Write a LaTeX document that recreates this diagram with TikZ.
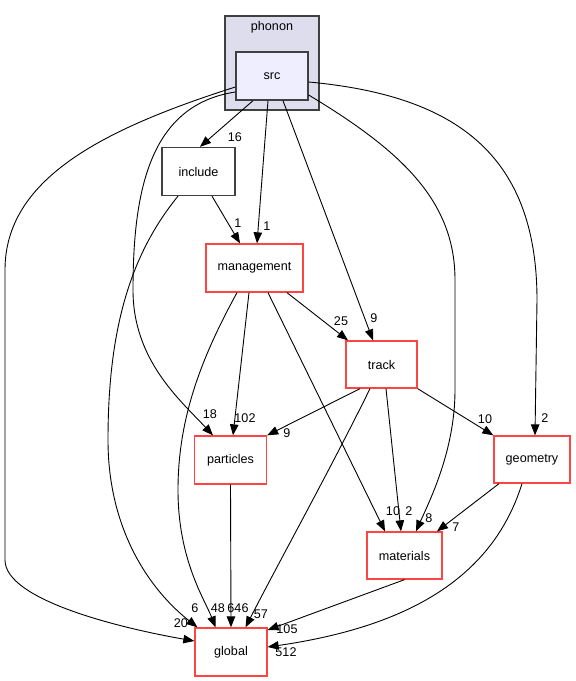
\documentclass[tikz,border=0pt]{standalone}
\usepackage{fontspec}
\setmainfont{Liberation Sans}
\usetikzlibrary{arrows.meta}
\definecolor{redb}{RGB}{255,68,68}
\definecolor{grayb}{RGB}{64,64,64}
\definecolor{clfill}{RGB}{221,221,238}
\definecolor{srcfill}{RGB}{238,238,255}
\tikzset{
  dirbox/.style={draw=redb,line width=1.3pt,fill=white,minimum width=#1,minimum height=47pt,inner sep=0pt,font=\fontsize{12.6}{14}\selectfont},
  plainbox/.style={draw=grayb,line width=1.3pt,fill=white,minimum width=#1,minimum height=48pt,inner sep=0pt,font=\fontsize{12.6}{14}\selectfont},
  dep/.style={draw=black,line width=0.9pt,-{Triangle[length=11pt,width=8.5pt]}},
  lab/.style={inner sep=0pt,font=\fontsize{12.6}{14}\selectfont}
}
\begin{document}
\begin{tikzpicture}[x=1pt,y=-1pt]
\useasboundingbox (0,0) rectangle (576,681);
% cluster
\node[draw=grayb,line width=1.3pt,fill=clfill,minimum width=94pt,minimum height=94pt,inner sep=0pt] (phonon) at (272,63) {};
\node[lab] (phononlab) at (272,27) {phonon};
\node[plainbox=72pt,fill=srcfill,minimum height=48pt] (src) at (272,76) {src};
% nodes
\node[plainbox=73pt] (include) at (198.5,171.5) {include};
\node[dirbox=97pt,minimum height=48pt] (management) at (254.5,268) {management};
\node[dirbox=71pt] (track) at (381.5,364.5) {track};
\node[dirbox=72pt,minimum height=48pt] (particles) at (230.5,460) {particles};
\node[dirbox=76pt] (geometry) at (532,459.5) {geometry};
\node[dirbox=75pt] (materials) at (404.5,555.5) {materials};
\node[dirbox=72pt,minimum height=48pt] (global) at (231,652) {global};
% edges
\draw[dep] ([yshift=-11pt]src.west) .. controls (100,130) and (5,180) .. (5,270) -- (5,560) .. controls (5,600) and (120,628) .. ([yshift=11pt]global.west);
\draw[dep] ([yshift=-16pt]src.west) .. controls (150,105) and (133,190) .. (133,290) .. controls (133,360) and (180,400) .. ([xshift=-17.5pt]particles.north);
\draw[dep] ([xshift=-19pt]src.south) -- ([xshift=1.5pt]include.north);
\draw[dep] ([xshift=-4pt]src.south) -- ([xshift=2.5pt]management.north);
\draw[dep] ([xshift=11pt]src.south) -- ([xshift=-8.5pt]track.north);
\draw[dep] ([yshift=-19pt]src.east) .. controls (400,150) and (455,200) .. (455,280) -- (455,390) .. controls (455,450) and (430,500) .. ([xshift=11.5pt]materials.north);
\draw[dep] ([yshift=-6pt]src.east) .. controls (450,95) and (537,150) .. (537,300) -- ([xshift=3pt]geometry.north);
\draw[dep] ([xshift=13.5pt]include.south) -- ([xshift=-14.5pt]management.north);
\draw[dep] ([xshift=-20.5pt]include.south) .. controls (130,255) and (108,330) .. (108,440) .. controls (108,530) and (150,590) .. ([xshift=-33.5pt]global.north);
\draw[dep] ([xshift=-5.5pt]management.south) -- ([xshift=2.5pt]particles.north);
\draw[dep] ([xshift=-17.5pt]management.south) .. controls (200,360) and (178,420) .. (178,490) .. controls (178,560) and (205,600) .. ([xshift=-15.5pt]global.north);
\draw[dep] ([xshift=32.5pt]management.south) -- ([xshift=-33.5pt]track.north);
\draw[dep] ([xshift=13.5pt]management.south) -- ([xshift=-19.5pt]materials.north);
\draw[dep] ([xshift=-21.5pt]track.south) -- (particles.north east);
\draw[dep] ([xshift=-11.5pt]track.south) .. controls (330,470) and (280,560) .. ([xshift=14.5pt]global.north);
\draw[dep] ([xshift=4.5pt]track.south) -- ([xshift=-3.5pt]materials.north);
\draw[dep] (track.south east) -- (geometry.north west);
\draw[dep] (particles.south) -- (global.north);
\draw[dep] ([xshift=-33pt]geometry.south) -- ([xshift=32.5pt]materials.north);
\draw[dep] ([xshift=-10pt]geometry.south) .. controls (495,570) and (420,625) .. ([yshift=5pt]global.east);
\draw[dep] (materials.south) -- ([yshift=22pt]global.east);
% labels
\node[lab] (l20) at (181,623) {20};
\node[lab] (l18) at (210,414) {18};
\node[lab] (l16) at (235,137) {16};
\node[lab] (l1a) at (267,226) {1};
\node[lab] (l9a) at (374,318) {9};
\node[lab] (l8) at (429,518) {8};
\node[lab] (l2a) at (545,418) {2};
\node[lab] (l1b) at (238,223) {1};
\node[lab] (l6) at (195,608) {6};
\node[lab] (l102) at (245,418) {102};
\node[lab] (l48) at (218,608) {48};
\node[lab] (l25) at (341,321) {25};
\node[lab] (l10a) at (393,511) {10};
\node[lab] (l9b) at (287,433) {9};
\node[lab] (l57) at (261,614) {57};
\node[lab] (l2b) at (409,511) {2};
\node[lab] (l10b) at (485,419) {10};
\node[lab] (l646) at (238,608) {646};
\node[lab] (l7) at (456,527) {7};
\node[lab] (l512) at (286,652) {512};
\node[lab] (l105) at (287,629) {105};
\end{tikzpicture}
\end{document}
